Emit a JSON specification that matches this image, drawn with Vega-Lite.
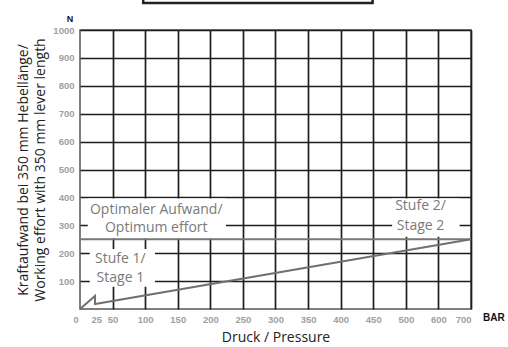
{
  "$schema": "https://vega.github.io/schema/vega-lite/v6.json",
  "width": 391,
  "height": 279,
  "autosize": {"type": "none"},
  "padding": {"left": 80, "top": 30, "right": 37, "bottom": 38},
  "background": "white",
  "config": {
    "view": {"stroke": "#555", "strokeWidth": 1.5},
    "axis": {
      "labelFont": "Liberation Sans",
      "labelFontSize": 9.5,
      "labelFontWeight": "bold",
      "labelColor": "#a0a0a0",
      "labelOverlap": false,
      "labelBound": false,
      "ticks": false,
      "domain": false,
      "tickCount": 30,
      "format": "d",
      "gridColor": "#1e1e1e",
      "gridWidth": 1.7,
      "gridOpacity": 1,
      "titleFont": "Open Sans",
      "titleFontSize": 14,
      "titleFontWeight": "normal",
      "titleColor": "#222"
    }
  },
  "datasets": {
    "curve": [
      {"i": 1, "x": 0, "y": 0},
      {"i": 2, "x": 23, "y": 47},
      {"i": 3, "x": 23, "y": 18},
      {"i": 4, "x": 500, "y": 210},
      {"i": 5, "x": 700, "y": 250}
    ],
    "boxes": [
      {"x": 12, "x2": 224, "y": 254, "y2": 396},
      {"x": 15, "x2": 115, "y": 80, "y2": 215},
      {"x": 479, "x2": 665, "y": 259, "y2": 396}
    ],
    "labels": [
      {"x": 117, "y": 355, "text": "Optimaler Aufwand/"},
      {"x": 117, "y": 290, "text": "Optimum effort"},
      {"x": 62, "y": 179, "text": "Stufe 1/"},
      {"x": 62, "y": 111, "text": "Stage 1"},
      {"x": 545, "y": 369, "text": "Stufe 2/"},
      {"x": 545, "y": 297, "text": "Stage 2"}
    ]
  },
  "layer": [
    {
      "data": {"name": "boxes"},
      "mark": {"type": "rect", "fill": "white", "strokeWidth": 0},
      "encoding": {
        "x": {
          "field": "x", "type": "quantitative",
          "scale": {"domain": [0, 500, 700], "range": [0, 325.83, 391], "nice": false, "zero": false},
          "axis": {
            "values": [0, 25, 50, 100, 150, 200, 250, 300, 350, 400, 450, 500, 600, 700],
            "tickCount": 30,
            "labelPadding": 5,
            "labelOffset": {"condition": {"test": "datum.value == 0", "value": -7}, "value": 0},
            "gridOpacity": {"condition": {"test": "datum.value == 25 || datum.value == 0", "value": 0}, "value": 1},
            "title": "Druck / Pressure",
            "titlePadding": 7
          }
        },
        "x2": {"field": "x2"},
        "y": {
          "field": "y", "type": "quantitative",
          "scale": {"domain": [0, 1000], "nice": false},
          "axis": {
            "values": [100, 200, 300, 400, 500, 600, 700, 800, 900, 1000],
            "tickCount": 30,
            "labelPadding": 6,
            "title": ["Kraftaufwand bei 350 mm Hebellänge/", "Working effort with 350 mm lever length"],
            "titlePadding": 5,
            "titleLineHeight": 17
          }
        },
        "y2": {"field": "y2"}
      }
    },
    {
      "data": {"values": [{"x": 97, "x2": 449, "y": 1097, "y2": 1160}]},
      "mark": {"type": "rect", "fill": "white", "stroke": "#222", "strokeWidth": 2.5},
      "encoding": {
        "x": {"field": "x", "type": "quantitative"},
        "x2": {"field": "x2"},
        "y": {"field": "y", "type": "quantitative"},
        "y2": {"field": "y2"}
      }
    },
    {
      "data": {"values": [{"x": 0, "x2": 700, "y": 250}]},
      "mark": {"type": "rule", "color": "#777", "strokeWidth": 2},
      "encoding": {
        "x": {"field": "x", "type": "quantitative"},
        "x2": {"field": "x2"},
        "y": {"field": "y", "type": "quantitative"}
      }
    },
    {
      "data": {"name": "curve"},
      "mark": {"type": "line", "color": "#707070", "strokeWidth": 2},
      "encoding": {
        "x": {"field": "x", "type": "quantitative"},
        "y": {"field": "y", "type": "quantitative"},
        "order": {"field": "i", "type": "quantitative"}
      }
    },
    {
      "data": {"name": "labels"},
      "mark": {"type": "text", "font": "Open Sans", "fontSize": 14, "color": "#7a7a7a", "align": "center", "baseline": "middle"},
      "encoding": {
        "x": {"field": "x", "type": "quantitative"},
        "y": {"field": "y", "type": "quantitative"},
        "text": {"field": "text"}
      }
    },
    {
      "data": {"values": [{"x": 700, "y": 0, "text": "BAR"}]},
      "mark": {"type": "text", "font": "Liberation Sans", "fontSize": 10, "fontWeight": "bold", "color": "#111", "align": "left", "baseline": "middle", "dx": 12, "dy": 9},
      "encoding": {
        "x": {"field": "x", "type": "quantitative"},
        "y": {"field": "y", "type": "quantitative"},
        "text": {"field": "text"}
      }
    },
    {
      "data": {"values": [{"x": 0, "y": 1000, "text": "N"}]},
      "mark": {"type": "text", "font": "Liberation Sans", "fontSize": 9, "fontWeight": "bold", "color": "#111", "align": "center", "baseline": "middle", "dx": -10, "dy": -11},
      "encoding": {
        "x": {"field": "x", "type": "quantitative"},
        "y": {"field": "y", "type": "quantitative"},
        "text": {"field": "text"}
      }
    }
  ]
}
